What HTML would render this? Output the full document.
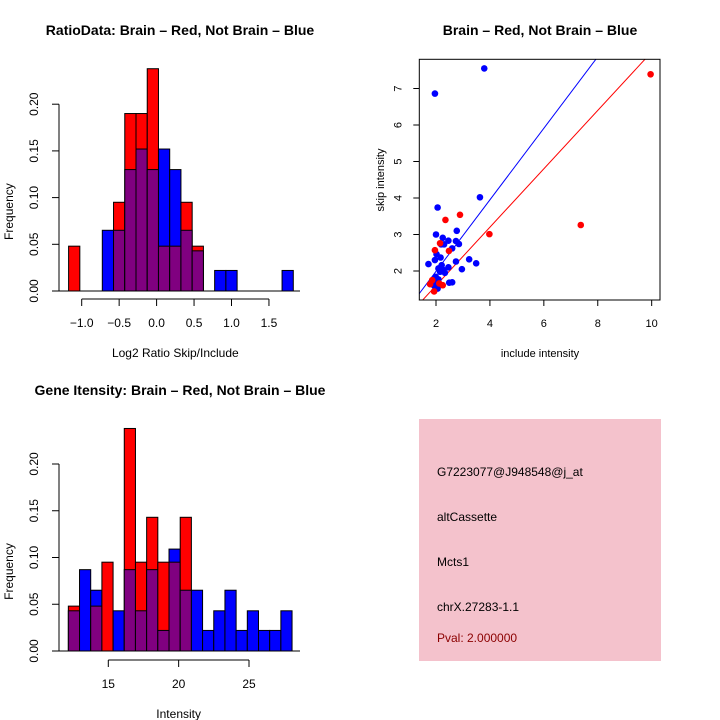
<!DOCTYPE html>
<html><head><meta charset="utf-8"><style>
body{margin:0;background:#fff}
svg{display:block;font-family:"Liberation Sans",sans-serif}
</style></head><body>
<svg id="c" width="720" height="720" viewBox="0 0 720 720">
<rect width="720" height="720" fill="#fff"/>
<g id="g1"></g>
<g id="g2"></g>
<g id="g3"></g>
<g>
<rect x="419" y="419" width="242" height="242" fill="#f4c2cc"/>
<text x="437" y="476" font-size="12">G7223077@J948548@j_at</text>
<text x="437" y="521" font-size="12">altCassette</text>
<text x="437" y="566" font-size="12">Mcts1</text>
<text x="437" y="611" font-size="12">chrX.27283-1.1</text>
<text x="437" y="642" font-size="12" fill="#8b0000">Pval: 2.000000</text>
</g>
</svg>
<script>
// Ratio histogram data
const ratioStart = -1.175, ratioStep = 0.15;
const ratioRed  = [0.048,0,0,0,0.095,0.19,0.19,0.238,0.048,0.048,0.095,0.048,0,0,0,0,0,0,0,0];
const ratioBlue = [0,0,0,0.065,0.065,0.13,0.152,0.13,0.152,0.13,0.065,0.043,0,0.022,0.022,0,0,0,0,0.022];
const ratioXTicks = [-1.0,-0.5,0.0,0.5,1.0,1.5];
const freqTicks = [0,0.05,0.10,0.15,0.20];
// Intensity histogram data
const intStart = 12.16, intStep = 0.795;
const intRed  = [0.048,0,0.048,0.095,0,0.238,0.095,0.143,0.095,0.095,0.143,0,0,0,0,0,0,0,0,0];
const intBlue = [0.043,0.087,0.065,0,0.043,0.087,0.043,0.087,0.022,0.109,0.065,0.065,0.022,0.043,0.065,0.022,0.043,0.022,0.022,0.043];
const intXTicks = [15,20,25];
// Scatter data
const blueX = [3.79,1.96,3.63,2.06,2.77,2.0,2.25,2.46,2.74,2.85,2.19,2.30,2.60,2.02,1.96,2.17,1.72,2.74,3.23,3.49,2.96,2.46,2.09,2.27,2.15,2.33,1.99,2.09,1.90,2.49,2.60,2.06,1.94,2.21];
const blueY = [7.55,6.86,4.02,3.74,3.10,3.0,2.91,2.83,2.82,2.74,2.73,2.73,2.62,2.46,2.30,2.37,2.19,2.26,2.32,2.21,2.05,2.10,2.07,2.03,1.98,1.95,1.84,1.77,1.71,1.68,1.69,1.52,1.59,2.16];
const redX = [9.96,7.37,3.98,2.89,2.35,1.96,2.48,2.15,1.86,1.78,2.25,1.93,2.12];
const redY = [7.39,3.26,3.01,3.54,3.40,2.57,2.55,2.76,1.75,1.64,1.61,1.44,1.66];
const scXTicks = [2,4,6,8,10];
const scYTicks = [2,3,4,5,6,7];
const blueSlope = 0.98, blueIntercept = 0.03, redSlope = 0.8, redIntercept = 0;

const NS = "http://www.w3.org/2000/svg";
function mk(parent, tag, attrs, name){
  const el = document.createElementNS(NS, tag);
  for (const k in attrs) el.setAttribute(k, attrs[k]);
  
  
  parent.appendChild(el); return el;
}
function txt(parent, x, y, s, size, name, extra){
  const t = mk(parent,'text',Object.assign({x:x,y:y,'font-size':size,'text-anchor':'middle'},extra||{}),name);
  t.textContent = s; return t;
}

function hist(g, start, step, red, blue, xs, ys, xTicks, xLabel, title, titleX, titleY, xAxisY){
  const fmt = v => v.toFixed(2);
  for (let i=0;i<red.length;i++){
    const r=red[i], b=blue[i]; if (r===0 && b===0) continue;
    const x0=xs(start+i*step), x1=xs(start+(i+1)*step);
    const hi=Math.max(r,b), lo=Math.min(r,b);
    mk(g,'rect',{x:x0,y:ys(hi),width:x1-x0,height:ys(0)-ys(hi),fill:r>=b?'#ff0000':'#0000ff',stroke:'#000','stroke-width':1},'bar-'+i);
    if (lo>0) mk(g,'rect',{x:x0,y:ys(lo),width:x1-x0,height:ys(0)-ys(lo),fill:'#800080',stroke:'#000','stroke-width':1},'bar-overlap-'+i);
  }
  const yl = 59;
  mk(g,'line',{x1:yl,x2:300,y1:ys(0),y2:ys(0),stroke:'#000'},'baseline');
  mk(g,'line',{x1:yl,x2:yl,y1:ys(0),y2:ys(0.2),stroke:'#000'},'y-axis');
  freqTicks.forEach(v=>{
    mk(g,'line',{x1:yl-7,x2:yl,y1:ys(v),y2:ys(v),stroke:'#000'},'y-tick');
    txt(g,0,0,fmt(v),12,'y-tick-label',{transform:`translate(${yl-21},${ys(v)}) rotate(-90)`});
  });
  txt(g,0,0,'Frequency',12,'y-axis-title',{transform:`translate(13,${(ys(0)+ys(0.2))/2+14}) rotate(-90)`});
  mk(g,'line',{x1:xs(xTicks[0]),x2:xs(xTicks[xTicks.length-1]),y1:xAxisY,y2:xAxisY,stroke:'#000'},'x-axis');
  xTicks.forEach(v=>{
    mk(g,'line',{x1:xs(v),x2:xs(v),y1:xAxisY,y2:xAxisY+7,stroke:'#000'},'x-tick');
    txt(g,xs(v),xAxisY+28,(Number.isInteger(v)&&Math.abs(v)>=2)?String(v):v.toFixed(1).replace('-','\u2212'),12,'x-tick-label');
  });
  txt(g,(xs(xTicks[0])+xs(xTicks[xTicks.length-1]))/2,xAxisY+58,xLabel,12,'x-axis-title');
  txt(g,titleX,titleY,title,14,'plot-title',{'font-weight':'bold'});
}

// Plot 1
const x1s = v => 81.7 + (v+1)*74.9, y1s = v => 291 - v*934;
hist(document.getElementById('g1'),ratioStart,ratioStep,ratioRed,ratioBlue,x1s,y1s,ratioXTicks,'Log2 Ratio Skip/Include','RatioData: Brain \u2013 Red, Not Brain \u2013 Blue',180,35,299);
// Plot 3
const x3s = v => 108.3 + (v-15)*14.07, y3s = v => 651 - v*935;
hist(document.getElementById('g3'),intStart,intStep,intRed,intBlue,x3s,y3s,intXTicks,'Intensity','Gene Itensity: Brain \u2013 Red, Not Brain \u2013 Blue',180,395,660);

// Plot 2 scatter
(function(){
  const g=document.getElementById('g2');
  const xs=v=>436+(v-2)*26.96, ys=v=>271-(v-2)*36.5;
  const L=419.3,R=660,T=59.3,B=300;
  const defs=mk(g,'clipPath',{id:'clip2'},'plot-clip');
  mk(defs,'rect',{x:L,y:T,width:R-L,height:B-T},'clip-rect');
  const inner=mk(g,'g',{'clip-path':'url(#clip2)'},'plot-area');
  const xa=1.0, xb=11;
  mk(inner,'line',{x1:xs(xa),y1:ys(blueSlope*xa+blueIntercept),x2:xs(xb),y2:ys(blueSlope*xb+blueIntercept),stroke:'#0000ff'},'blue-fit-line');
  mk(inner,'line',{x1:xs(xa),y1:ys(redSlope*xa+redIntercept),x2:xs(xb),y2:ys(redSlope*xb+redIntercept),stroke:'#ff0000'},'red-fit-line');
  blueX.forEach((v,i)=>mk(inner,'circle',{cx:xs(v),cy:ys(blueY[i]),r:3.3,fill:'#0000ff'},'blue-point'));
  redX.forEach((v,i)=>mk(inner,'circle',{cx:xs(v),cy:ys(redY[i]),r:3.3,fill:'#ff0000'},'red-point'));
  mk(g,'rect',{x:L,y:T,width:R-L,height:B-T,fill:'none',stroke:'#000'},'plot-box');
  scXTicks.forEach(v=>{
    mk(g,'line',{x1:xs(v),x2:xs(v),y1:B,y2:B+6,stroke:'#000'},'x-tick');
    txt(g,xs(v),B+27,String(v),11,'x-tick-label');
  });
  scYTicks.forEach(v=>{
    mk(g,'line',{x1:L-6,x2:L,y1:ys(v),y2:ys(v),stroke:'#000'},'y-tick');
    txt(g,0,0,String(v),11,'y-tick-label',{transform:`translate(${L-18},${ys(v)}) rotate(-90)`});
  });
  txt(g,540,357,'include intensity',11,'x-axis-title');
  txt(g,0,0,'skip intensity',11,'y-axis-title',{transform:`translate(384,180) rotate(-90)`});
  txt(g,540,35,'Brain \u2013 Red, Not Brain \u2013 Blue',14,'plot-title',{'font-weight':'bold'});
})();
</script>
</body></html>
